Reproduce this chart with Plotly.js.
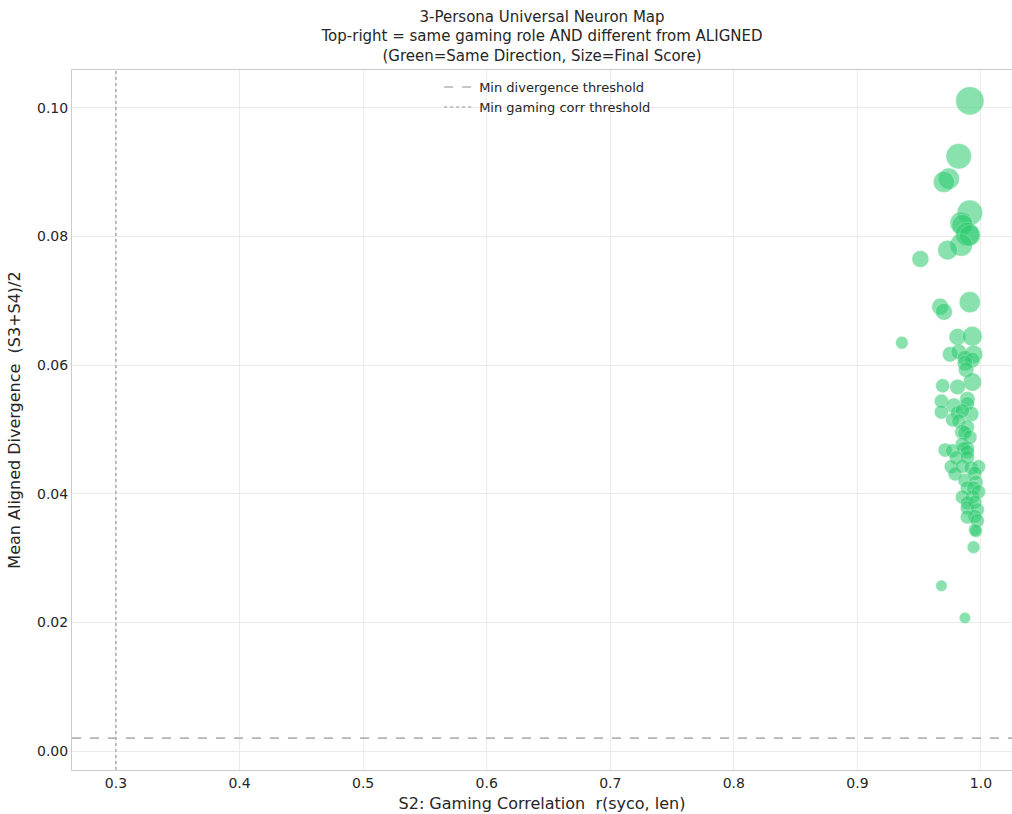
<!DOCTYPE html>
<html>
<head>
<meta charset="utf-8">
<script src="https://cdn.plot.ly/plotly-3.0.1.min.js"></script>
<style>
  html, body { margin: 0; padding: 0; background: #fff; }
  #chart { width: 1012px; height: 814px; }
</style>
</head>
<body>
<div id="chart"></div>
<script>
// S2: gaming correlation r(syco, len) for each universal neuron
const gamingCorr = [
  0.991, 0.982, 0.974, 0.970, 0.991, 0.984, 0.985, 0.989, 0.991, 0.984,
  0.973, 0.951, 0.967, 0.970, 0.991, 0.936, 0.981, 0.993, 0.975, 0.982,
  0.994, 0.987, 0.993, 0.987, 0.988, 0.993, 0.969, 0.981, 0.968, 0.989,
  0.978, 0.989, 0.968, 0.981, 0.992, 0.985, 0.977, 0.982, 0.989, 0.985,
  0.987, 0.991, 0.985, 0.971, 0.977, 0.989, 0.986, 0.989, 0.980, 0.989,
  0.976, 0.985, 0.992, 0.998, 0.979, 0.995, 0.987, 0.996, 0.989, 0.994,
  0.985, 0.993, 0.998, 0.989, 0.995, 0.989, 0.997, 0.995, 0.989, 0.997,
  0.995, 0.996, 0.994, 0.968, 0.987
];

// Mean aligned divergence (S3+S4)/2
const alignedDiv = [
  0.1011, 0.0925, 0.0890, 0.0885, 0.0837, 0.0821, 0.0818, 0.0804, 0.0802, 0.0787,
  0.0779, 0.0765, 0.0691, 0.0683, 0.0698, 0.0635, 0.0644, 0.0645, 0.0617, 0.0621,
  0.0617, 0.0611, 0.0608, 0.0603, 0.0593, 0.0574, 0.0568, 0.0566, 0.0544, 0.0547,
  0.0537, 0.0540, 0.0527, 0.0526, 0.0524, 0.0529, 0.0515, 0.0513, 0.0504, 0.0496,
  0.0495, 0.0488, 0.0477, 0.0468, 0.0467, 0.0471, 0.0470, 0.0465, 0.0456, 0.0457,
  0.0442, 0.0443, 0.0440, 0.0442, 0.0431, 0.0432, 0.0421, 0.0418, 0.0409, 0.0409,
  0.0395, 0.0395, 0.0403, 0.0386, 0.0387, 0.0378, 0.0375, 0.0365, 0.0364, 0.0358,
  0.0344, 0.0342, 0.0317, 0.0257, 0.0207
];

// Final score (drives marker area)
const finalScore = [
  0.100, 0.081, 0.056, 0.056, 0.081, 0.064, 0.056, 0.072, 0.056, 0.064,
  0.049, 0.036, 0.036, 0.036, 0.056, 0.020, 0.036, 0.049, 0.030, 0.030,
  0.042, 0.030, 0.030, 0.030, 0.030, 0.042, 0.025, 0.030, 0.025, 0.030,
  0.030, 0.025, 0.025, 0.025, 0.030, 0.025, 0.025, 0.025, 0.025, 0.030,
  0.025, 0.025, 0.025, 0.025, 0.025, 0.025, 0.025, 0.025, 0.025, 0.025,
  0.025, 0.025, 0.025, 0.025, 0.025, 0.025, 0.025, 0.025, 0.025, 0.025,
  0.025, 0.025, 0.025, 0.025, 0.025, 0.025, 0.025, 0.025, 0.025, 0.025,
  0.020, 0.020, 0.020, 0.016, 0.016
];

// Threshold values
const minDivergence = 0.002;
const minGamingCorr = 0.3;

const FONT = "DejaVu Sans, Liberation Sans, sans-serif";
const INK = "#262626";
const GREEN = "rgba(46, 204, 113, 0.8)";

const neurons = {
  type: "scatter",
  mode: "markers",
  x: gamingCorr,
  y: alignedDiv,
  showlegend: false,
  hoverinfo: "x+y",
  marker: {
    size: finalScore,
    sizemode: "area",
    sizeref: 0.00025,
    color: GREEN,
    line: { color: "rgba(255,255,255,0.7)", width: 0.5 }
  }
};

const layout = {
  width: 1012,
  height: 814,
  paper_bgcolor: "#ffffff",
  plot_bgcolor: "#ffffff",
  margin: { l: 72, r: 0, t: 70, b: 44 },
  font: { family: FONT, color: INK, size: 14 },
  title: {
    text: "3-Persona Universal Neuron Map<br>Top-right = same gaming role AND different from ALIGNED<br>(Green=Same Direction, Size=Final Score)",
    font: { family: FONT, size: 15, color: INK },
    x: 0.5, xref: "paper",
    y: 0.973, yref: "container", yanchor: "top"
  },
  xaxis: {
    range: [0.2644, 1.0251],
    tickmode: "linear", tick0: 0.3, dtick: 0.1,
    tickformat: ".1f",
    showgrid: true, gridcolor: "#ebebeb", gridwidth: 1,
    zeroline: false,
    showline: true, mirror: true, linecolor: "#cccccc", linewidth: 1,
    ticks: "", ticklen: 0,
    tickfont: { family: FONT, size: 14, color: INK },
    title: { text: "S2: Gaming Correlation  r(syco, len)", font: { family: FONT, size: 16, color: INK }, standoff: 8 }
  },
  yaxis: {
    range: [-0.00295, 0.1059],
    tickmode: "linear", tick0: 0, dtick: 0.02,
    tickformat: ".2f",
    showgrid: true, gridcolor: "#ebebeb", gridwidth: 1,
    zeroline: false,
    showline: true, mirror: true, linecolor: "#cccccc", linewidth: 1,
    ticks: "", ticklen: 0,
    tickfont: { family: FONT, size: 14, color: INK },
    title: { text: "Mean Aligned Divergence  (S3+S4)/2", font: { family: FONT, size: 16, color: INK }, standoff: 12 }
  },
  shapes: [
    {
      type: "line", xref: "paper", x0: 0, x1: 1, yref: "y", y0: minDivergence, y1: minDivergence,
      line: { color: "#b4b4b4", width: 1.6, dash: "dash" },
      layer: "above",
      showlegend: true, name: "Min divergence threshold"
    },
    {
      type: "line", yref: "paper", y0: 0, y1: 1, xref: "x", x0: minGamingCorr, x1: minGamingCorr,
      line: { color: "#b4b4b4", width: 1.6, dash: "dot" },
      layer: "above",
      showlegend: true, name: "Min gaming corr threshold"
    }
  ],
  legend: {
    x: 0.506, xanchor: "center",
    y: 0.997, yanchor: "top",
    bgcolor: "rgba(255,255,255,0)",
    borderwidth: 0,
    font: { family: FONT, size: 13, color: INK },
    tracegroupgap: 0,
    itemwidth: 30
  },
  hovermode: "closest"
};

Plotly.newPlot("chart", [neurons], layout, { displayModeBar: false });
</script>
</body>
</html>
